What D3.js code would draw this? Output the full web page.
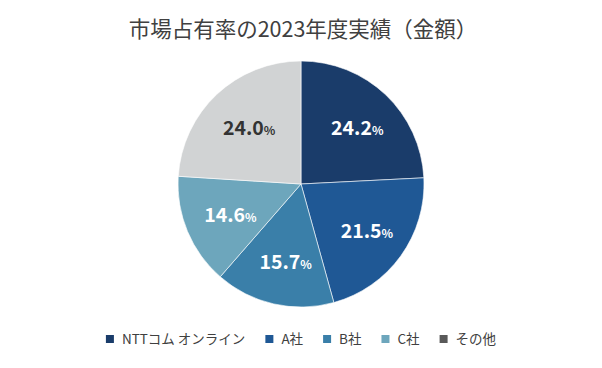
<!DOCTYPE html>
<html><head><meta charset="utf-8">
<script src="https://cdn.jsdelivr.net/npm/d3@7"></script>
<style>body{margin:0;background:#fff}svg{display:block}</style>
</head><body><svg id="c" width="602" height="368"></svg>
<script>
const categories = ["NTTコム オンライン","A社","B社","C社","その他"];
const values = [24.2, 21.5, 15.7, 14.6, 24.0];
const sliceColors = ["#1a3c6a","#1f5895","#3a7fa9","#6da6bc","#d1d3d4"];
const legendColors = ["#1a3c6a","#1f5895","#3a7fa9","#6da6bc","#595959"];
const labelColors = ["#fff","#fff","#fff","#fff","#333"];
const title = "市場占有率の2023年度実績（金額）";

const svg = d3.select("#c");
const font = "'Noto Sans CJK JP','Noto Sans',sans-serif";
const cx = 301, cy = 184, r = 123;

svg.append("text").attr("x", 303).attr("y", 37).attr("text-anchor","middle")
  .attr("font-family", font).attr("font-size", 21.5).attr("fill","#404040").text(title);

const pie = d3.pie().sort(null).value(d => d);
const arcs = pie(values);
const arc = d3.arc().innerRadius(0).outerRadius(r);
const labelArc = d3.arc().innerRadius(r*0.64).outerRadius(r*0.64);
const g = svg.append("g").attr("transform", `translate(${cx},${cy})`);
g.selectAll("path").data(arcs).join("path").attr("d", arc)
  .attr("fill", (d,i) => sliceColors[i]).attr("stroke","#fff").attr("stroke-width",0.6);

const lbl = g.selectAll("text.l").data(arcs).join("text").attr("class","l")
  .attr("transform", d => { const [x,y] = labelArc.centroid(d); return `translate(${x+2},${y+8})`; })
  .attr("text-anchor","middle").attr("font-family", font).attr("font-weight","bold")
  .attr("fill", (d,i) => labelColors[i]);
lbl.append("tspan").attr("font-size", 19.5).text(d => d.data.toFixed(1));
lbl.append("tspan").attr("font-size", 12).text("%");

// legend
const lg = svg.append("g");
const items = lg.selectAll("g").data(categories).join("g");
items.append("rect").attr("width", 8).attr("height", 8).attr("y", -8)
  .attr("fill", (d,i) => legendColors[i]);
items.append("text").attr("x", 16).attr("y", 0.5).attr("font-family", font)
  .attr("font-size", 13.5).attr("fill","#404040").text(d => d);
const gap = 20;
let x = 0; const pos = [];
items.each(function(d){ const w = 16 + d3.select(this).select("text").node().getComputedTextLength(); pos.push(x); x += w + gap; });
const total = x - gap;
const startX = 301 - total/2;
items.attr("transform", (d,i) => `translate(${startX + pos[i]},${343})`);
</script></body></html>
